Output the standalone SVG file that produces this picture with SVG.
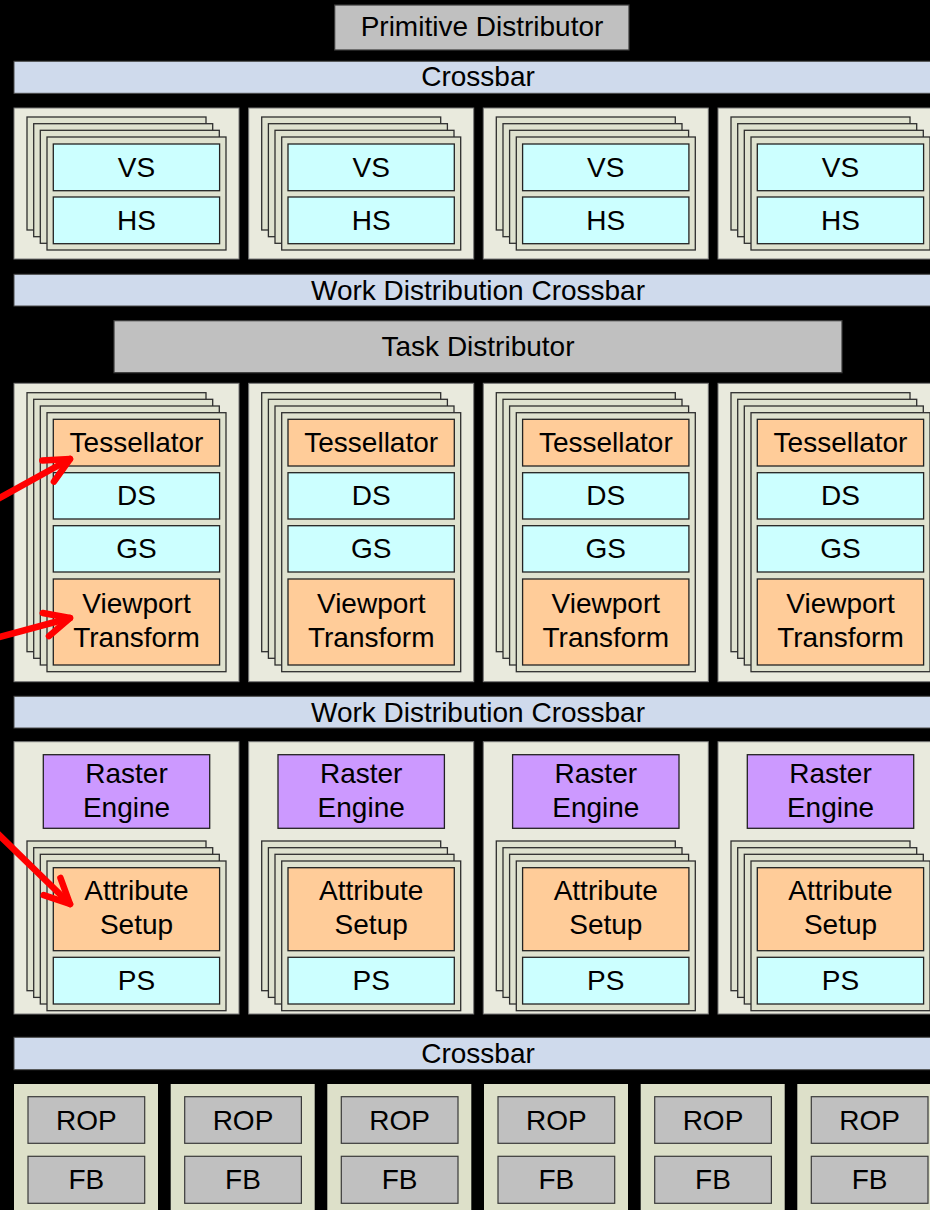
<svg xmlns="http://www.w3.org/2000/svg" width="930" height="1210" viewBox="0 0 930 1210" font-family="'Liberation Sans', Arial, sans-serif">
<defs>
<style>
text{font-family:"Liberation Sans",Arial,sans-serif;font-size:28px;fill:#000;text-anchor:middle}
.bar{fill:#cfdaec;stroke:#4a4a4a;stroke-width:1}
.gray{fill:#c0c0c0;stroke:#3a3a3a;stroke-width:1.2}
.cl{fill:#e9eadd;stroke:#777;stroke-width:1}
.rcl{fill:#dde0c9;stroke:none}
.card{fill:#dfe2cf;stroke:#2e2e2e;stroke-width:1.3}
.cy{fill:#ccffff;stroke:#222;stroke-width:1.3}
.or{fill:#ffcc99;stroke:#222;stroke-width:1.3}
.pu{fill:#cc99ff;stroke:#222;stroke-width:1.3}
.arr{stroke:#ff0000;stroke-width:6.5;fill:none;stroke-linecap:round;stroke-linejoin:round}
</style>
<marker id="ah" markerUnits="userSpaceOnUse" orient="auto" refX="0" refY="0" markerWidth="60" markerHeight="60" overflow="visible">
<path d="M-25,-12 L0,0 L-25,12" fill="none" stroke="#ff0000" stroke-width="6.5" stroke-linecap="round" stroke-linejoin="round"/>
</marker>
</defs>
<rect x="0" y="0" width="930" height="1210" fill="#000"/>

<g id="primitive-distributor"><rect class="gray" x="334.7" y="5" width="294.3" height="45"/><text x="482" y="36">Primitive Distributor</text></g>
<g id="crossbar-top"><rect class="bar" x="14" y="61.3" width="930" height="32"/><text x="478" y="86">Crossbar</text></g>

<!-- Row 1: VS/HS -->
<g id="sm-row1-1" transform="translate(14,108)">
<rect class="cl" width="225" height="151"/>
<rect class="card" x="13" y="9" width="179" height="113"/><rect class="card" x="19.7" y="15.7" width="179" height="113"/><rect class="card" x="26.3" y="22.3" width="179" height="113"/><rect class="card" x="33" y="29" width="179" height="113"/>
<g id="vs-1"><rect class="cy" x="39.3" y="36" width="166.3" height="46.7"/><text x="122.5" y="68.5">VS</text></g>
<g id="hs-1"><rect class="cy" x="39.3" y="89" width="166.3" height="46.7"/><text x="122.5" y="121.5">HS</text></g>
</g>
<g id="sm-row1-2" transform="translate(248.7,108)">
<rect class="cl" width="225" height="151"/>
<rect class="card" x="13" y="9" width="179" height="113"/><rect class="card" x="19.7" y="15.7" width="179" height="113"/><rect class="card" x="26.3" y="22.3" width="179" height="113"/><rect class="card" x="33" y="29" width="179" height="113"/>
<g id="vs-2"><rect class="cy" x="39.3" y="36" width="166.3" height="46.7"/><text x="122.5" y="68.5">VS</text></g>
<g id="hs-2"><rect class="cy" x="39.3" y="89" width="166.3" height="46.7"/><text x="122.5" y="121.5">HS</text></g>
</g>
<g id="sm-row1-3" transform="translate(483.3,108)">
<rect class="cl" width="225" height="151"/>
<rect class="card" x="13" y="9" width="179" height="113"/><rect class="card" x="19.7" y="15.7" width="179" height="113"/><rect class="card" x="26.3" y="22.3" width="179" height="113"/><rect class="card" x="33" y="29" width="179" height="113"/>
<g id="vs-3"><rect class="cy" x="39.3" y="36" width="166.3" height="46.7"/><text x="122.5" y="68.5">VS</text></g>
<g id="hs-3"><rect class="cy" x="39.3" y="89" width="166.3" height="46.7"/><text x="122.5" y="121.5">HS</text></g>
</g>
<g id="sm-row1-4" transform="translate(718,108)">
<rect class="cl" width="225" height="151"/>
<rect class="card" x="13" y="9" width="179" height="113"/><rect class="card" x="19.7" y="15.7" width="179" height="113"/><rect class="card" x="26.3" y="22.3" width="179" height="113"/><rect class="card" x="33" y="29" width="179" height="113"/>
<g id="vs-4"><rect class="cy" x="39.3" y="36" width="166.3" height="46.7"/><text x="122.5" y="68.5">VS</text></g>
<g id="hs-4"><rect class="cy" x="39.3" y="89" width="166.3" height="46.7"/><text x="122.5" y="121.5">HS</text></g>
</g>

<g id="wdc-1"><rect class="bar" x="14" y="274.3" width="930" height="31.7"/><text x="478" y="299.5">Work Distribution Crossbar</text></g>
<g id="task-distributor"><rect class="gray" x="114" y="320.7" width="728" height="52"/><text x="478" y="356">Task Distributor</text></g>

<!-- Row 2: Tessellator/DS/GS/Viewport -->
<g id="sm-row2-1" transform="translate(14,383.3)">
<rect class="cl" width="225" height="298.4"/>
<rect class="card" x="13" y="9.4" width="179" height="259"/><rect class="card" x="19.7" y="16" width="179" height="259"/><rect class="card" x="26.3" y="22.7" width="179" height="259"/><rect class="card" x="33" y="29.4" width="179" height="259"/>
<g id="tess-1"><rect class="or" x="39.3" y="36" width="166.3" height="46.7"/><text x="122.5" y="68.5">Tessellator</text></g>
<g id="ds-1"><rect class="cy" x="39.3" y="89.4" width="166.3" height="46.3"/><text x="122.5" y="121.8">DS</text></g>
<g id="gs-1"><rect class="cy" x="39.3" y="142.4" width="166.3" height="46.3"/><text x="122.5" y="174.8">GS</text></g>
<g id="vp-1"><rect class="or" x="39.3" y="195.7" width="166.3" height="86"/><text x="122.5" y="230">Viewport</text><text x="122.5" y="264">Transform</text></g>
</g>
<g id="sm-row2-2" transform="translate(248.7,383.3)">
<rect class="cl" width="225" height="298.4"/>
<rect class="card" x="13" y="9.4" width="179" height="259"/><rect class="card" x="19.7" y="16" width="179" height="259"/><rect class="card" x="26.3" y="22.7" width="179" height="259"/><rect class="card" x="33" y="29.4" width="179" height="259"/>
<g id="tess-2"><rect class="or" x="39.3" y="36" width="166.3" height="46.7"/><text x="122.5" y="68.5">Tessellator</text></g>
<g id="ds-2"><rect class="cy" x="39.3" y="89.4" width="166.3" height="46.3"/><text x="122.5" y="121.8">DS</text></g>
<g id="gs-2"><rect class="cy" x="39.3" y="142.4" width="166.3" height="46.3"/><text x="122.5" y="174.8">GS</text></g>
<g id="vp-2"><rect class="or" x="39.3" y="195.7" width="166.3" height="86"/><text x="122.5" y="230">Viewport</text><text x="122.5" y="264">Transform</text></g>
</g>
<g id="sm-row2-3" transform="translate(483.3,383.3)">
<rect class="cl" width="225" height="298.4"/>
<rect class="card" x="13" y="9.4" width="179" height="259"/><rect class="card" x="19.7" y="16" width="179" height="259"/><rect class="card" x="26.3" y="22.7" width="179" height="259"/><rect class="card" x="33" y="29.4" width="179" height="259"/>
<g id="tess-3"><rect class="or" x="39.3" y="36" width="166.3" height="46.7"/><text x="122.5" y="68.5">Tessellator</text></g>
<g id="ds-3"><rect class="cy" x="39.3" y="89.4" width="166.3" height="46.3"/><text x="122.5" y="121.8">DS</text></g>
<g id="gs-3"><rect class="cy" x="39.3" y="142.4" width="166.3" height="46.3"/><text x="122.5" y="174.8">GS</text></g>
<g id="vp-3"><rect class="or" x="39.3" y="195.7" width="166.3" height="86"/><text x="122.5" y="230">Viewport</text><text x="122.5" y="264">Transform</text></g>
</g>
<g id="sm-row2-4" transform="translate(718,383.3)">
<rect class="cl" width="225" height="298.4"/>
<rect class="card" x="13" y="9.4" width="179" height="259"/><rect class="card" x="19.7" y="16" width="179" height="259"/><rect class="card" x="26.3" y="22.7" width="179" height="259"/><rect class="card" x="33" y="29.4" width="179" height="259"/>
<g id="tess-4"><rect class="or" x="39.3" y="36" width="166.3" height="46.7"/><text x="122.5" y="68.5">Tessellator</text></g>
<g id="ds-4"><rect class="cy" x="39.3" y="89.4" width="166.3" height="46.3"/><text x="122.5" y="121.8">DS</text></g>
<g id="gs-4"><rect class="cy" x="39.3" y="142.4" width="166.3" height="46.3"/><text x="122.5" y="174.8">GS</text></g>
<g id="vp-4"><rect class="or" x="39.3" y="195.7" width="166.3" height="86"/><text x="122.5" y="230">Viewport</text><text x="122.5" y="264">Transform</text></g>
</g>

<g id="wdc-2"><rect class="bar" x="14" y="696.3" width="930" height="31.7"/><text x="478" y="721.5">Work Distribution Crossbar</text></g>

<!-- Row 3: Raster / Attribute Setup / PS -->
<g id="gpc-1" transform="translate(14,741.7)">
<rect class="cl" width="225" height="272.3"/>
<g id="raster-1"><rect class="pu" x="29.3" y="13" width="166.4" height="73.6"/><text x="112.5" y="41.6">Raster</text><text x="112.5" y="75">Engine</text></g>
<rect class="card" x="13" y="99.3" width="179" height="149.7"/><rect class="card" x="19.7" y="106" width="179" height="149.7"/><rect class="card" x="26.3" y="112.6" width="179" height="149.7"/><rect class="card" x="33" y="119.3" width="179" height="149.7"/>
<g id="attr-1"><rect class="or" x="39.3" y="126" width="166.3" height="83"/><text x="122.5" y="158.3">Attribute</text><text x="122.5" y="192.6">Setup</text></g>
<g id="ps-1"><rect class="cy" x="39.3" y="215.6" width="166.3" height="46.7"/><text x="122.5" y="248">PS</text></g>
</g>
<g id="gpc-2" transform="translate(248.7,741.7)">
<rect class="cl" width="225" height="272.3"/>
<g id="raster-2"><rect class="pu" x="29.3" y="13" width="166.4" height="73.6"/><text x="112.5" y="41.6">Raster</text><text x="112.5" y="75">Engine</text></g>
<rect class="card" x="13" y="99.3" width="179" height="149.7"/><rect class="card" x="19.7" y="106" width="179" height="149.7"/><rect class="card" x="26.3" y="112.6" width="179" height="149.7"/><rect class="card" x="33" y="119.3" width="179" height="149.7"/>
<g id="attr-2"><rect class="or" x="39.3" y="126" width="166.3" height="83"/><text x="122.5" y="158.3">Attribute</text><text x="122.5" y="192.6">Setup</text></g>
<g id="ps-2"><rect class="cy" x="39.3" y="215.6" width="166.3" height="46.7"/><text x="122.5" y="248">PS</text></g>
</g>
<g id="gpc-3" transform="translate(483.3,741.7)">
<rect class="cl" width="225" height="272.3"/>
<g id="raster-3"><rect class="pu" x="29.3" y="13" width="166.4" height="73.6"/><text x="112.5" y="41.6">Raster</text><text x="112.5" y="75">Engine</text></g>
<rect class="card" x="13" y="99.3" width="179" height="149.7"/><rect class="card" x="19.7" y="106" width="179" height="149.7"/><rect class="card" x="26.3" y="112.6" width="179" height="149.7"/><rect class="card" x="33" y="119.3" width="179" height="149.7"/>
<g id="attr-3"><rect class="or" x="39.3" y="126" width="166.3" height="83"/><text x="122.5" y="158.3">Attribute</text><text x="122.5" y="192.6">Setup</text></g>
<g id="ps-3"><rect class="cy" x="39.3" y="215.6" width="166.3" height="46.7"/><text x="122.5" y="248">PS</text></g>
</g>
<g id="gpc-4" transform="translate(718,741.7)">
<rect class="cl" width="225" height="272.3"/>
<g id="raster-4"><rect class="pu" x="29.3" y="13" width="166.4" height="73.6"/><text x="112.5" y="41.6">Raster</text><text x="112.5" y="75">Engine</text></g>
<rect class="card" x="13" y="99.3" width="179" height="149.7"/><rect class="card" x="19.7" y="106" width="179" height="149.7"/><rect class="card" x="26.3" y="112.6" width="179" height="149.7"/><rect class="card" x="33" y="119.3" width="179" height="149.7"/>
<g id="attr-4"><rect class="or" x="39.3" y="126" width="166.3" height="83"/><text x="122.5" y="158.3">Attribute</text><text x="122.5" y="192.6">Setup</text></g>
<g id="ps-4"><rect class="cy" x="39.3" y="215.6" width="166.3" height="46.7"/><text x="122.5" y="248">PS</text></g>
</g>

<g id="crossbar-bottom"><rect class="bar" x="14" y="1037.3" width="930" height="32.4"/><text x="478" y="1063">Crossbar</text></g>

<!-- ROP / FB partitions -->
<g id="part-1" transform="translate(14,1084)"><rect class="rcl" width="144" height="140"/>
<g id="rop-1"><rect class="gray" x="14" y="12.7" width="116.7" height="46.6"/><text x="72.3" y="45.5">ROP</text></g>
<g id="fb-1"><rect class="gray" x="14" y="72.3" width="116.7" height="47"/><text x="72.3" y="105">FB</text></g></g>
<g id="part-2" transform="translate(170.7,1084)"><rect class="rcl" width="144" height="140"/>
<g id="rop-2"><rect class="gray" x="14" y="12.7" width="116.7" height="46.6"/><text x="72.3" y="45.5">ROP</text></g>
<g id="fb-2"><rect class="gray" x="14" y="72.3" width="116.7" height="47"/><text x="72.3" y="105">FB</text></g></g>
<g id="part-3" transform="translate(327.3,1084)"><rect class="rcl" width="144" height="140"/>
<g id="rop-3"><rect class="gray" x="14" y="12.7" width="116.7" height="46.6"/><text x="72.3" y="45.5">ROP</text></g>
<g id="fb-3"><rect class="gray" x="14" y="72.3" width="116.7" height="47"/><text x="72.3" y="105">FB</text></g></g>
<g id="part-4" transform="translate(484,1084)"><rect class="rcl" width="144" height="140"/>
<g id="rop-4"><rect class="gray" x="14" y="12.7" width="116.7" height="46.6"/><text x="72.3" y="45.5">ROP</text></g>
<g id="fb-4"><rect class="gray" x="14" y="72.3" width="116.7" height="47"/><text x="72.3" y="105">FB</text></g></g>
<g id="part-5" transform="translate(640.7,1084)"><rect class="rcl" width="144" height="140"/>
<g id="rop-5"><rect class="gray" x="14" y="12.7" width="116.7" height="46.6"/><text x="72.3" y="45.5">ROP</text></g>
<g id="fb-5"><rect class="gray" x="14" y="72.3" width="116.7" height="47"/><text x="72.3" y="105">FB</text></g></g>
<g id="part-6" transform="translate(797.3,1084)"><rect class="rcl" width="144" height="140"/>
<g id="rop-6"><rect class="gray" x="14" y="12.7" width="116.7" height="46.6"/><text x="72.3" y="45.5">ROP</text></g>
<g id="fb-6"><rect class="gray" x="14" y="72.3" width="116.7" height="47"/><text x="72.3" y="105">FB</text></g></g>

<g id="connectors">
<line class="arr" x1="-4" y1="500" x2="70" y2="459" marker-end="url(#ah)"/>
<line class="arr" x1="-4" y1="638" x2="70" y2="618" marker-end="url(#ah)"/>
<line class="arr" x1="-4" y1="832" x2="70" y2="904" marker-end="url(#ah)"/>
</g>
</svg>
